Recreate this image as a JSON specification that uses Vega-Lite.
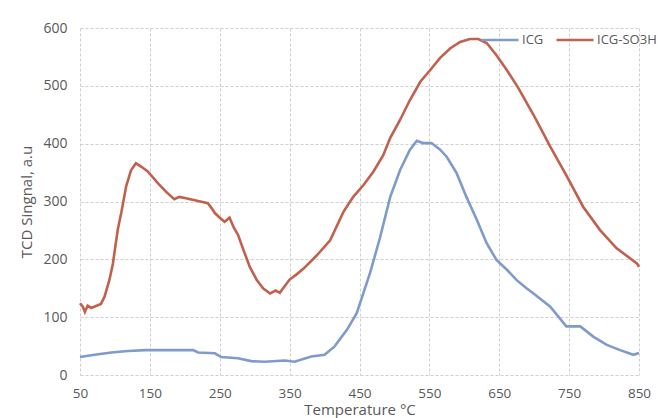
{
  "$schema": "https://vega.github.io/schema/vega-lite/v6.json",
  "width": 559,
  "height": 347,
  "autosize": "none",
  "padding": {"left": 80, "top": 28, "right": 23, "bottom": 43},
  "background": "white",
  "config": {
    "view": {"stroke": null},
    "font": "Open Sans",
    "axis": {
      "domain": false,
      "ticks": false,
      "gridColor": "#cfcfcf",
      "gridDash": [3, 2],
      "gridWidth": 1,
      "labelColor": "#595959",
      "labelFontSize": 14,
      "labelFont": "Open Sans",
      "titleColor": "#595959",
      "titleFontWeight": "normal",
      "titleFont": "Open Sans"
    }
  },
  "data": {
    "values": [
      {"T": 50, "s": 124, "series": "ICG-SO3H"},
      {"T": 54, "s": 118, "series": "ICG-SO3H"},
      {"T": 57, "s": 109, "series": "ICG-SO3H"},
      {"T": 61, "s": 120, "series": "ICG-SO3H"},
      {"T": 66, "s": 116, "series": "ICG-SO3H"},
      {"T": 72, "s": 119, "series": "ICG-SO3H"},
      {"T": 80, "s": 123, "series": "ICG-SO3H"},
      {"T": 85, "s": 135, "series": "ICG-SO3H"},
      {"T": 92, "s": 164, "series": "ICG-SO3H"},
      {"T": 97, "s": 192, "series": "ICG-SO3H"},
      {"T": 104, "s": 251, "series": "ICG-SO3H"},
      {"T": 109, "s": 280, "series": "ICG-SO3H"},
      {"T": 116, "s": 326, "series": "ICG-SO3H"},
      {"T": 123, "s": 354, "series": "ICG-SO3H"},
      {"T": 130, "s": 366, "series": "ICG-SO3H"},
      {"T": 138, "s": 360, "series": "ICG-SO3H"},
      {"T": 147, "s": 352, "series": "ICG-SO3H"},
      {"T": 162, "s": 331, "series": "ICG-SO3H"},
      {"T": 173, "s": 317, "series": "ICG-SO3H"},
      {"T": 185, "s": 304, "series": "ICG-SO3H"},
      {"T": 192, "s": 308, "series": "ICG-SO3H"},
      {"T": 200, "s": 306, "series": "ICG-SO3H"},
      {"T": 219, "s": 301, "series": "ICG-SO3H"},
      {"T": 233, "s": 297, "series": "ICG-SO3H"},
      {"T": 238, "s": 289, "series": "ICG-SO3H"},
      {"T": 243, "s": 280, "series": "ICG-SO3H"},
      {"T": 250, "s": 272, "series": "ICG-SO3H"},
      {"T": 257, "s": 265, "series": "ICG-SO3H"},
      {"T": 264, "s": 272, "series": "ICG-SO3H"},
      {"T": 270, "s": 255, "series": "ICG-SO3H"},
      {"T": 276, "s": 243, "series": "ICG-SO3H"},
      {"T": 284, "s": 216, "series": "ICG-SO3H"},
      {"T": 293, "s": 187, "series": "ICG-SO3H"},
      {"T": 303, "s": 164, "series": "ICG-SO3H"},
      {"T": 312, "s": 150, "series": "ICG-SO3H"},
      {"T": 322, "s": 141, "series": "ICG-SO3H"},
      {"T": 330, "s": 146, "series": "ICG-SO3H"},
      {"T": 336, "s": 142, "series": "ICG-SO3H"},
      {"T": 342, "s": 152, "series": "ICG-SO3H"},
      {"T": 350, "s": 165, "series": "ICG-SO3H"},
      {"T": 360, "s": 174, "series": "ICG-SO3H"},
      {"T": 370, "s": 184, "series": "ICG-SO3H"},
      {"T": 389, "s": 207, "series": "ICG-SO3H"},
      {"T": 408, "s": 233, "series": "ICG-SO3H"},
      {"T": 427, "s": 282, "series": "ICG-SO3H"},
      {"T": 441, "s": 308, "series": "ICG-SO3H"},
      {"T": 456, "s": 329, "series": "ICG-SO3H"},
      {"T": 470, "s": 352, "series": "ICG-SO3H"},
      {"T": 484, "s": 380, "series": "ICG-SO3H"},
      {"T": 494, "s": 410, "series": "ICG-SO3H"},
      {"T": 508, "s": 441, "series": "ICG-SO3H"},
      {"T": 522, "s": 475, "series": "ICG-SO3H"},
      {"T": 537, "s": 507, "series": "ICG-SO3H"},
      {"T": 551, "s": 527, "series": "ICG-SO3H"},
      {"T": 565, "s": 548, "series": "ICG-SO3H"},
      {"T": 580, "s": 565, "series": "ICG-SO3H"},
      {"T": 594, "s": 576, "series": "ICG-SO3H"},
      {"T": 608, "s": 581, "series": "ICG-SO3H"},
      {"T": 620, "s": 581, "series": "ICG-SO3H"},
      {"T": 632, "s": 574, "series": "ICG-SO3H"},
      {"T": 646, "s": 553, "series": "ICG-SO3H"},
      {"T": 661, "s": 527, "series": "ICG-SO3H"},
      {"T": 677, "s": 497, "series": "ICG-SO3H"},
      {"T": 699, "s": 450, "series": "ICG-SO3H"},
      {"T": 723, "s": 395, "series": "ICG-SO3H"},
      {"T": 747, "s": 343, "series": "ICG-SO3H"},
      {"T": 770, "s": 291, "series": "ICG-SO3H"},
      {"T": 794, "s": 251, "series": "ICG-SO3H"},
      {"T": 818, "s": 219, "series": "ICG-SO3H"},
      {"T": 847, "s": 193, "series": "ICG-SO3H"},
      {"T": 850, "s": 187, "series": "ICG-SO3H"},
      {"T": 50, "s": 31, "series": "ICG"},
      {"T": 71, "s": 35, "series": "ICG"},
      {"T": 95, "s": 39, "series": "ICG"},
      {"T": 119, "s": 41.5, "series": "ICG"},
      {"T": 143, "s": 43, "series": "ICG"},
      {"T": 166, "s": 43, "series": "ICG"},
      {"T": 190, "s": 43, "series": "ICG"},
      {"T": 212, "s": 43, "series": "ICG"},
      {"T": 219, "s": 39, "series": "ICG"},
      {"T": 243, "s": 37.5, "series": "ICG"},
      {"T": 252, "s": 31, "series": "ICG"},
      {"T": 276, "s": 29, "series": "ICG"},
      {"T": 295, "s": 24, "series": "ICG"},
      {"T": 314, "s": 23, "series": "ICG"},
      {"T": 343, "s": 25, "series": "ICG"},
      {"T": 357, "s": 23, "series": "ICG"},
      {"T": 381, "s": 32, "series": "ICG"},
      {"T": 400, "s": 35, "series": "ICG"},
      {"T": 414, "s": 49, "series": "ICG"},
      {"T": 422, "s": 62, "series": "ICG"},
      {"T": 432, "s": 78, "series": "ICG"},
      {"T": 446, "s": 107, "series": "ICG"},
      {"T": 465, "s": 176, "series": "ICG"},
      {"T": 479, "s": 236, "series": "ICG"},
      {"T": 494, "s": 308, "series": "ICG"},
      {"T": 508, "s": 354, "series": "ICG"},
      {"T": 522, "s": 389, "series": "ICG"},
      {"T": 532, "s": 405, "series": "ICG"},
      {"T": 541, "s": 401, "series": "ICG"},
      {"T": 553, "s": 401, "series": "ICG"},
      {"T": 565, "s": 390, "series": "ICG"},
      {"T": 575, "s": 377, "series": "ICG"},
      {"T": 589, "s": 349, "series": "ICG"},
      {"T": 603, "s": 308, "series": "ICG"},
      {"T": 618, "s": 268, "series": "ICG"},
      {"T": 632, "s": 228, "series": "ICG"},
      {"T": 646, "s": 199, "series": "ICG"},
      {"T": 661, "s": 182, "series": "ICG"},
      {"T": 675, "s": 164, "series": "ICG"},
      {"T": 689, "s": 150, "series": "ICG"},
      {"T": 700, "s": 140, "series": "ICG"},
      {"T": 723, "s": 118, "series": "ICG"},
      {"T": 746, "s": 84, "series": "ICG"},
      {"T": 766, "s": 84, "series": "ICG"},
      {"T": 785, "s": 66, "series": "ICG"},
      {"T": 804, "s": 52, "series": "ICG"},
      {"T": 823, "s": 43, "series": "ICG"},
      {"T": 842, "s": 35, "series": "ICG"},
      {"T": 850, "s": 38, "series": "ICG"}
    ]
  },
  "mark": {"type": "line", "strokeWidth": 2.6},
  "encoding": {
    "x": {
      "field": "T",
      "type": "quantitative",
      "scale": {"domain": [50, 850], "nice": false, "zero": false},
      "axis": {
        "values": [50, 150, 250, 350, 450, 550, 650, 750, 850],
        "title": "Temperature °C",
        "titleFontSize": 15,
        "labelFontSize": 13.5,
        "labelFlush": false,
        "labelPadding": 11,
        "titlePadding": 3
      }
    },
    "y": {
      "field": "s",
      "type": "quantitative",
      "scale": {"domain": [0, 600], "nice": false},
      "axis": {
        "values": [0, 100, 200, 300, 400, 500, 600],
        "title": "TCD Singnal, a.u",
        "titleFontSize": 15,
        "labelPadding": 13,
        "titlePadding": 8
      }
    },
    "color": {
      "field": "series",
      "type": "nominal",
      "scale": {"domain": ["ICG", "ICG-SO3H"], "range": ["#7e9bc9", "#c0614e"]},
      "legend": {
        "title": null,
        "orient": "none",
        "legendX": 400,
        "legendY": -8,
        "padding": 0,
        "direction": "horizontal",
        "symbolType": "stroke",
        "symbolSize": 1369,
        "symbolStrokeWidth": 2.6,
        "labelFontSize": 13,
        "labelColor": "#595959",
        "labelOffset": 2,
        "columnPadding": 7
      }
    }
  }
}
